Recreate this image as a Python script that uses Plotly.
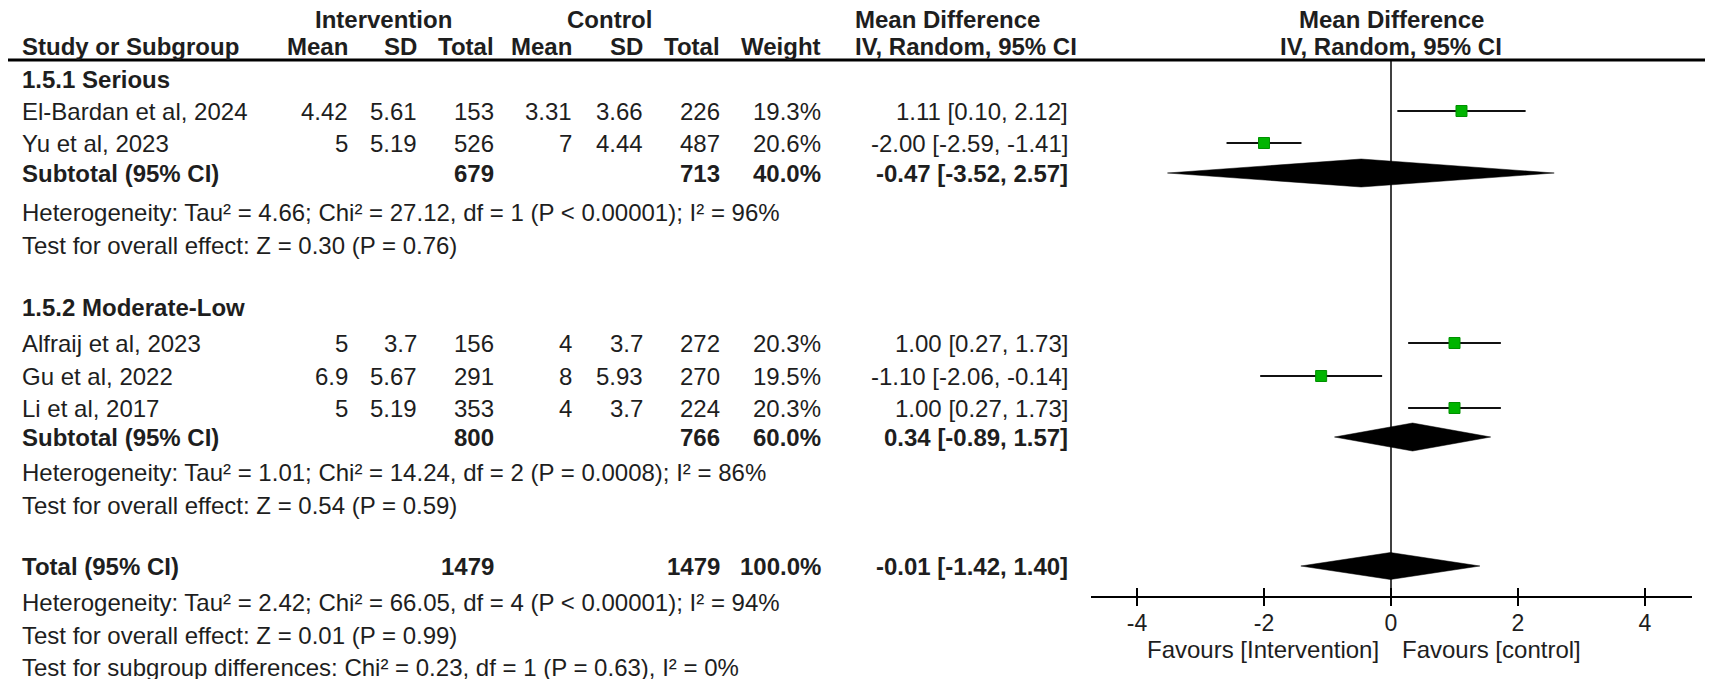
import plotly.graph_objects as go

W, H = 1713, 679
OFF = 8                      # default page margin around the plot div
FW, FH = W - OFF, H - OFF    # figure size so that it ends at the window edge

# ---- data ----
studies = ["El-Bardan et al, 2024", "Yu et al, 2023", "Alfraij et al, 2023",
           "Gu et al, 2022", "Li et al, 2017"]
int_mean = [4.42, 5, 5, 6.9, 5]
int_sd = [5.61, 5.19, 3.7, 5.67, 5.19]
int_n = [153, 526, 156, 291, 353]
ctl_mean = [3.31, 7, 4, 8, 4]
ctl_sd = [3.66, 4.44, 3.7, 5.93, 3.7]
ctl_n = [226, 487, 272, 270, 224]
weight = [19.3, 20.6, 20.3, 19.5, 20.3]
md = [1.11, -2.00, 1.00, -1.10, 1.00]
md_lo = [0.10, -2.59, 0.27, -2.06, 0.27]
md_hi = [2.12, -1.41, 1.73, -0.14, 1.73]

sub_names = ["1.5.1 Serious", "1.5.2 Moderate-Low"]
sub_int_n = [679, 800]
sub_ctl_n = [713, 766]
sub_weight = [40.0, 60.0]
sub_md = [-0.47, 0.34]
sub_lo = [-3.52, -0.89]
sub_hi = [2.57, 1.57]
sub_het = ["Heterogeneity: Tau² = 4.66; Chi² = 27.12, df = 1 (P < 0.00001); I² = 96%",
           "Heterogeneity: Tau² = 1.01; Chi² = 14.24, df = 2 (P = 0.0008); I² = 86%"]
sub_test = ["Test for overall effect: Z = 0.30 (P = 0.76)",
            "Test for overall effect: Z = 0.54 (P = 0.59)"]

tot_int_n, tot_ctl_n, tot_weight = 1479, 1479, 100.0
tot_md, tot_lo, tot_hi = -0.01, -1.42, 1.40
tot_notes = ["Heterogeneity: Tau² = 2.42; Chi² = 66.05, df = 4 (P < 0.00001); I² = 94%",
             "Test for overall effect: Z = 0.01 (P = 0.99)",
             "Test for subgroup differences: Chi² = 0.23, df = 1 (P = 0.63), I² = 0%"]

ticks = [-4, -2, 0, 2, 4]

# ---- layout (page pixel rows / columns) ----
head_y = [19, 46]
study_y = [111, 143, 343, 376, 408]
group_y = [79, 307]
sub_y = [173, 437]
sub_het_y = [[212, 245], [472, 505]]
tot_y = 566
tot_note_y = [602, 635, 667]
rule_y = 60
axis_y = 597

col_x = {"mean1": 350, "sd1": 419, "n1": 496, "mean2": 574, "sd2": 645,
         "n2": 722, "w": 823, "ci": 1070}
left_x = 20
zero_px, unit_px = 1391, 63.5
ax_l, ax_r = 1091, 1692

FONT = "Liberation Sans, Arial, sans-serif"
TXT = "#1e1e1e"
FS = 24


def px(x):
    return (x - OFF) / FW


fig = go.Figure()
ann = []


def txt(x, y, s, anchor="right", bold=False, size=FS):
    if bold:
        s = "<b>" + s + "</b>"
    ann.append(dict(x=px(x), y=y, xref="paper", yref="y", text=s, showarrow=False,
                    xanchor=anchor, yanchor="middle",
                    font=dict(family=FONT, size=size, color=TXT)))


def ci(m, lo, hi):
    return f"{m:.2f} [{lo:.2f}, {hi:.2f}]"


# headers
txt(383, head_y[0], "Intervention", "center", True)
txt(609, head_y[0], "Control", "center", True)
txt(853, head_y[0], "Mean Difference", "left", True)
txt(zero_px, head_y[0], "Mean Difference", "center", True)
txt(left_x, head_y[1], "Study or Subgroup", "left", True)
for k, s in [("mean1", "Mean"), ("sd1", "SD"), ("n1", "Total"), ("mean2", "Mean"),
             ("sd2", "SD"), ("n2", "Total"), ("w", "Weight")]:
    txt(col_x[k], head_y[1], s, "right", True)
txt(853, head_y[1], "IV, Random, 95% CI", "left", True)
txt(zero_px, head_y[1], "IV, Random, 95% CI", "center", True)

# study rows
for i, s in enumerate(studies):
    y = study_y[i]
    txt(left_x, y, s, "left")
    txt(col_x["mean1"], y, f"{int_mean[i]:g}")
    txt(col_x["sd1"], y, f"{int_sd[i]:g}")
    txt(col_x["n1"], y, str(int_n[i]))
    txt(col_x["mean2"], y, f"{ctl_mean[i]:g}")
    txt(col_x["sd2"], y, f"{ctl_sd[i]:g}")
    txt(col_x["n2"], y, str(ctl_n[i]))
    txt(col_x["w"], y, f"{weight[i]:.1f}%")
    txt(col_x["ci"], y, ci(md[i], md_lo[i], md_hi[i]))

# subgroup rows
for g in range(2):
    txt(left_x, group_y[g], sub_names[g], "left", True)
    y = sub_y[g]
    txt(left_x, y, "Subtotal (95% CI)", "left", True)
    txt(col_x["n1"], y, str(sub_int_n[g]), bold=True)
    txt(col_x["n2"], y, str(sub_ctl_n[g]), bold=True)
    txt(col_x["w"], y, f"{sub_weight[g]:.1f}%", bold=True)
    txt(col_x["ci"], y, ci(sub_md[g], sub_lo[g], sub_hi[g]), bold=True)
    txt(left_x, sub_het_y[g][0], sub_het[g], "left")
    txt(left_x, sub_het_y[g][1], sub_test[g], "left")

# total
txt(left_x, tot_y, "Total (95% CI)", "left", True)
txt(col_x["n1"], tot_y, str(tot_int_n), bold=True)
txt(col_x["n2"], tot_y, str(tot_ctl_n), bold=True)
txt(col_x["w"], tot_y, f"{tot_weight:.1f}%", bold=True)
txt(col_x["ci"], tot_y, ci(tot_md, tot_lo, tot_hi), bold=True)
for s, y in zip(tot_notes, tot_note_y):
    txt(left_x, y, s, "left")

# favours labels
txt(zero_px - 10, 649, "Favours [Intervention]", "right")
txt(zero_px + 9, 649, "Favours [control]", "left")

# ---- forest marks ----
lx, ly = [], []
for i in range(len(studies)):
    lx += [md_lo[i], md_hi[i], None]
    ly += [study_y[i], study_y[i], None]
fig.add_trace(go.Scatter(x=lx, y=ly, mode="lines", line=dict(color="#111111", width=2),
                         hoverinfo="skip", showlegend=False))
fig.add_trace(go.Scatter(x=md, y=study_y, mode="markers", showlegend=False,
                         marker=dict(symbol="square", size=11, color="#00B400",
                                     line=dict(color="#009000", width=1))))

dx, dy = [], []
for m, lo, hi, y, h in zip(sub_md + [tot_md], sub_lo + [tot_lo], sub_hi + [tot_hi],
                           sub_y + [tot_y], [14, 14, 13.5]):
    dx += [lo, m, hi, m, lo, None]
    dy += [y, y - h, y, y + h, y, None]
fig.add_trace(go.Scatter(x=dx, y=dy, mode="lines", fill="toself", fillcolor="black",
                         line=dict(color="black", width=0.5), hoverinfo="skip",
                         showlegend=False))
# dummy trace so the inner-tick axis is drawn
fig.add_trace(go.Scatter(x=[0], y=[-50], xaxis="x2", mode="markers",
                         marker=dict(opacity=0), hoverinfo="skip", showlegend=False))

xr = [(ax_l - zero_px) / unit_px, (ax_r - zero_px) / unit_px]
xdom = [px(ax_l), px(ax_r)]
pos = 1 - (axis_y - OFF) / FH

fig.update_layout(
    width=FW, height=FH, autosize=False,
    margin=dict(l=0, r=0, t=0, b=0),
    paper_bgcolor="white", plot_bgcolor="white",
    annotations=ann,
    xaxis=dict(domain=xdom, range=xr, anchor="free", position=pos,
               showgrid=False, zeroline=False, showline=True, linecolor="black",
               linewidth=2, ticks="outside", ticklen=8, tickwidth=2, tickcolor="black",
               tickvals=ticks, ticktext=[str(t) for t in ticks], ticklabelstandoff=-3,
               tickfont=dict(family=FONT, size=23, color=TXT), fixedrange=True),
    xaxis2=dict(domain=xdom, range=xr, anchor="free", position=pos, overlaying="x",
                showgrid=False, zeroline=False, showline=False, ticks="inside",
                ticklen=9, tickwidth=2, tickcolor="black", tickvals=ticks,
                showticklabels=False, fixedrange=True),
    yaxis=dict(domain=[0, 1], range=[OFF + FH, OFF], visible=False, fixedrange=True),
    shapes=[
        dict(type="line", xref="paper", yref="y", x0=0, x1=1, y0=rule_y, y1=rule_y,
             line=dict(color="black", width=3)),
        dict(type="line", xref="x", yref="y", x0=0, x1=0, y0=rule_y, y1=axis_y,
             line=dict(color="black", width=1.5)),
    ],
)

fig.write_html("out.html")
